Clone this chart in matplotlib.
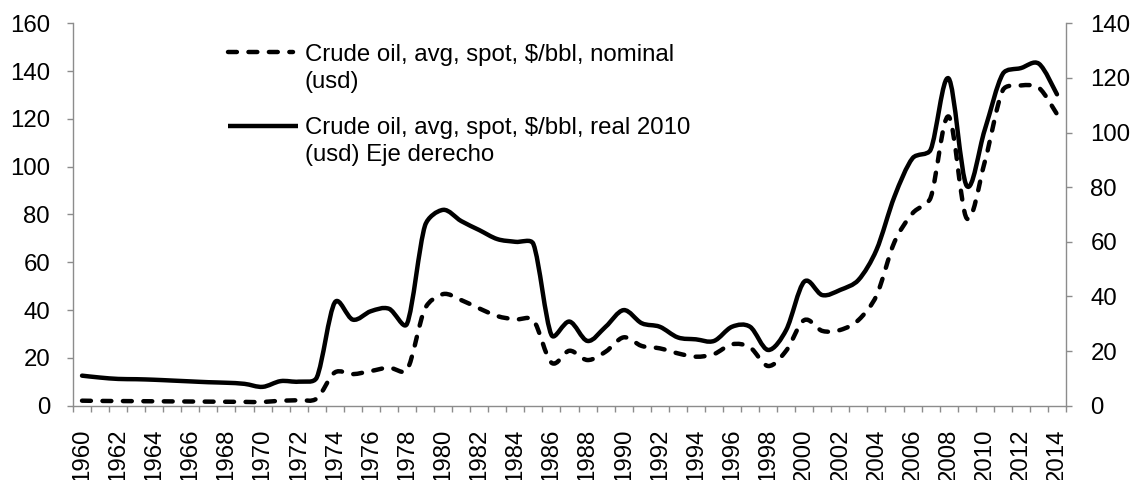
import matplotlib
matplotlib.use("Agg")
import matplotlib.pyplot as plt
from matplotlib.path import Path
from matplotlib.patches import PathPatch
from matplotlib.lines import Line2D
import numpy as np

plt.rcParams['font.family'] = ['Liberation Sans', 'DejaVu Sans']

years = list(range(1960, 2015))
nominal = [2.1, 2.0, 1.95, 1.9, 1.85, 1.8, 1.75, 1.7, 1.65, 1.6,
           1.55, 2.1, 2.3, 3.0, 13.9, 13.2, 14.5, 15.9, 14.9, 40.7,
           46.7, 44.2, 40.7, 37.5, 36.1, 35.8, 18.0, 23.0, 19.1, 22.6,
           28.6, 25.0, 24.0, 21.9, 20.5, 21.6, 25.7, 24.4, 16.6, 23.0,
           35.8, 31.3, 31.7, 35.8, 46.0, 68.5, 80.5, 87.0, 121.0, 78.4,
           102.0, 132.0, 134.0, 133.0, 122.0]
real2010 = [11.0, 10.3, 9.8, 9.7, 9.5, 9.2, 8.9, 8.6, 8.4, 8.0,
            6.9, 9.0, 8.8, 10.3, 37.8, 31.5, 34.6, 35.5, 30.0, 66.0,
            71.7, 67.6, 64.3, 61.0, 60.0, 59.2, 25.9, 30.8, 23.7, 28.9,
            35.0, 30.2, 28.9, 25.0, 24.3, 23.7, 28.9, 28.9, 20.4, 27.7,
            45.4, 40.5, 42.4, 46.0, 57.0, 76.6, 90.6, 93.7, 119.8, 80.5,
            101.0, 121.5, 123.6, 125.2, 114.0]
even_labels = [str(y) for y in years if y % 2 == 0]

label_nom = "Crude oil, avg, spot, $/bbl, nominal\n(usd)"
label_real = "Crude oil, avg, spot, $/bbl, real 2010\n(usd) Eje derecho"


def smooth_path(axis, xs, ys, k=0.36):
    """Excel-like smoothed line: Catmull-Rom Bezier handles (1/6 of the
    neighbour chord, in pixel space), each limited to k * segment length."""
    tr = axis.transData
    pts = tr.transform(np.column_stack([xs, ys]).astype(float))
    n = len(pts)
    verts = [pts[0]]
    codes = [Path.MOVETO]

    def clamp(h, L):
        hl = np.hypot(*h)
        lim = k * L
        return h * (lim / hl) if hl > lim and hl > 0 else h

    for i in range(n - 1):
        p0 = pts[i - 1] if i > 0 else pts[i]
        p1, p2 = pts[i], pts[i + 1]
        p3 = pts[i + 2] if i + 2 < n else pts[i + 1]
        L = np.hypot(*(p2 - p1))
        c1 = p1 + clamp((p2 - p0) / 6.0, L)
        c2 = p2 - clamp((p3 - p1) / 6.0, L)
        verts += [c1, c2, p2]
        codes += [Path.CURVE4] * 3
    verts = tr.inverted().transform(np.array(verts))
    return Path(verts, codes)


W, H = 1131, 480
fig = plt.figure(figsize=(W / 100, H / 100), dpi=100)
x0, x1, ytop, ybot = 73, 1066, 23.3, 405.7
ax = fig.add_axes([x0 / W, 1 - ybot / H, (x1 - x0) / W, (ybot - ytop) / H])
ax2 = ax.twinx()

gray = '#8c8c8c'
fs = 17.3
dash = (0, (2.0, 2.6))
lw = 3.2

ax.set_xlim(years[0] - 0.5, years[-1] + 0.5)
ax.set_ylim(0, 160)
ax2.set_ylim(0, 140)

ax.add_patch(PathPatch(smooth_path(ax, years, nominal), fill=False, lw=lw,
                       edgecolor='black', linestyle=dash, capstyle='round',
                       joinstyle='round'))
ax2.add_patch(PathPatch(smooth_path(ax2, years, real2010), fill=False, lw=lw,
                        edgecolor='black', linestyle='-', capstyle='round',
                        joinstyle='round'))

ax.set_yticks(np.arange(0, 161, 20))
ax2.set_yticks(np.arange(0, 141, 20))

ax.set_xticks([y for y in years if y % 2 == 0])
ax.set_xticklabels(even_labels, rotation=90, fontsize=fs)
ax.set_xticks(np.arange(years[0] - 0.5, years[-1] + 1.0, 1.0), minor=True)
ax.tick_params(axis='x', which='major', length=0, pad=16.5)
ax.tick_params(axis='x', which='minor', length=4.5, width=1, color=gray,
               direction='out')
ax.tick_params(axis='y', length=4.5, width=1, color=gray, direction='out',
               labelsize=fs, pad=12)
ax2.tick_params(axis='y', length=4.5, width=1, color=gray, direction='out',
                labelsize=fs, pad=13)

for a in (ax, ax2):
    a.spines['top'].set_visible(False)
    for s in ('left', 'right', 'bottom'):
        a.spines[s].set_color(gray)
        a.spines[s].set_linewidth(1.0)
ax.spines['right'].set_visible(False)
ax2.spines['left'].set_visible(False)
ax2.spines['bottom'].set_visible(False)


def ax_xy(px, py):
    return ((px - x0) / (x1 - x0), (ybot - py) / (ybot - ytop))


# legend (manual, Excel style)
for (lx0, lx1, ly, ls), (tx, lines, bases) in zip(
        [(228, 293, 51.7, dash), (228, 298, 125.7, '-')],
        [(305, label_nom.split("\n"), [61, 88]),
         (305, label_real.split("\n"), [134, 161])]):
    a0 = ax_xy(lx0, ly)
    a1 = ax_xy(lx1, ly)
    ax2.add_line(Line2D([a0[0], a1[0]], [a0[1], a1[1]], transform=ax2.transAxes,
                        color='black', lw=lw, linestyle=ls,
                        dash_capstyle='round', solid_capstyle='butt'))
    for t, b in zip(lines, bases):
        p = ax_xy(tx, b)
        ax2.text(p[0], p[1], t, transform=ax2.transAxes, fontsize=fs,
                 ha='left', va='baseline')

fig.savefig('out.png', dpi=100)
